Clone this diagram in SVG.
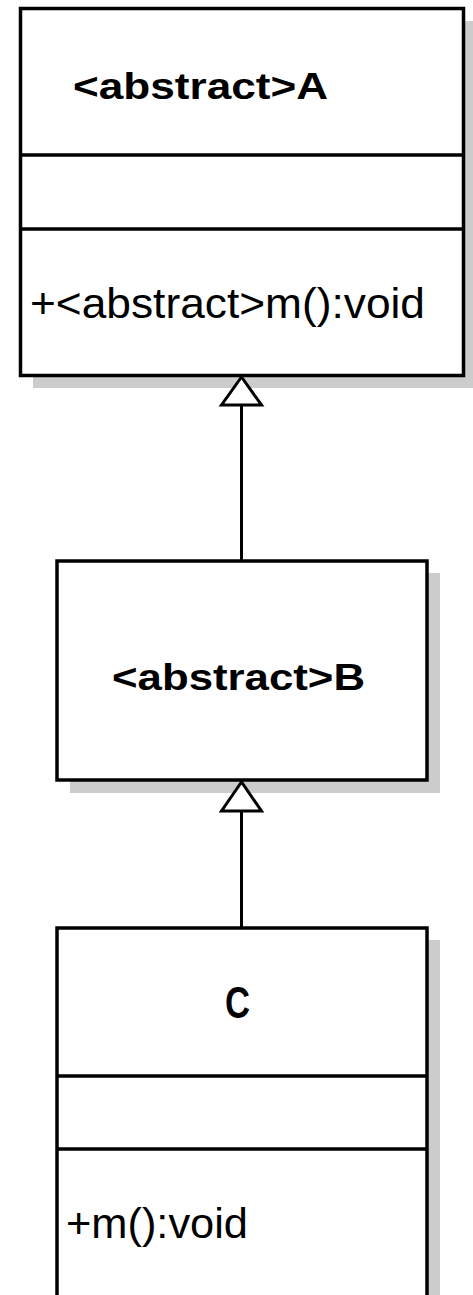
<svg xmlns="http://www.w3.org/2000/svg" width="473" height="1295" viewBox="0 0 473 1295">
<style>
.box{fill:#ffffff;stroke:#000000;stroke-width:3.5}
.shadow{fill:#cccccc;stroke:none}
.div{stroke:#000000;stroke-width:3.5}
.title{font-family:"Liberation Sans",Arial,sans-serif;font-weight:bold;fill:#000000}
.member{font-family:"Liberation Sans",Arial,sans-serif;fill:#000000;font-size:43px}
.conn{stroke:#000000;stroke-width:3;fill:none}
.head{fill:#ffffff;stroke:#000000;stroke-width:3}
</style>
<rect width="473" height="1295" fill="#ffffff"/>
<g id="classA">
<rect class="shadow" x="33" y="21" width="443" height="367"/>
<rect class="box" x="20.5" y="8.5" width="443" height="367"/>
<line class="div" x1="20.5" y1="155" x2="463.5" y2="155"/>
<line class="div" x1="20.5" y1="229" x2="463.5" y2="229"/>
<text class="title" x="73" y="99" font-size="36" textLength="255" lengthAdjust="spacingAndGlyphs">&lt;abstract&gt;A</text>
<text class="member" x="30" y="318" textLength="395" lengthAdjust="spacingAndGlyphs">+&lt;abstract&gt;m():void</text>
</g>
<g id="classB">
<rect class="shadow" x="70" y="573" width="370" height="220"/>
<rect class="box" x="57" y="561" width="370" height="219"/>
<text class="title" x="112" y="690" font-size="37" textLength="253" lengthAdjust="spacingAndGlyphs">&lt;abstract&gt;B</text>
</g>
<g id="classC">
<rect class="shadow" x="70" y="940" width="370" height="380"/>
<rect class="box" x="57" y="928" width="370" height="380"/>
<line class="div" x1="57" y1="1076" x2="427" y2="1076"/>
<line class="div" x1="57" y1="1149" x2="427" y2="1149"/>
<text class="title" x="225" y="1018" font-size="44" textLength="25" lengthAdjust="spacingAndGlyphs">C</text>
<text class="member" x="66" y="1238" textLength="182" lengthAdjust="spacingAndGlyphs">+m():void</text>
</g>
<g id="connectors">
<line class="conn" x1="241.5" y1="405" x2="241.5" y2="561"/>
<polygon class="head" points="241.5,377 221.5,405 261.5,405"/>
<line class="conn" x1="241.5" y1="811" x2="241.5" y2="928"/>
<polygon class="head" points="241.5,782 221.5,811 261.5,811"/>
</g>
</svg>
